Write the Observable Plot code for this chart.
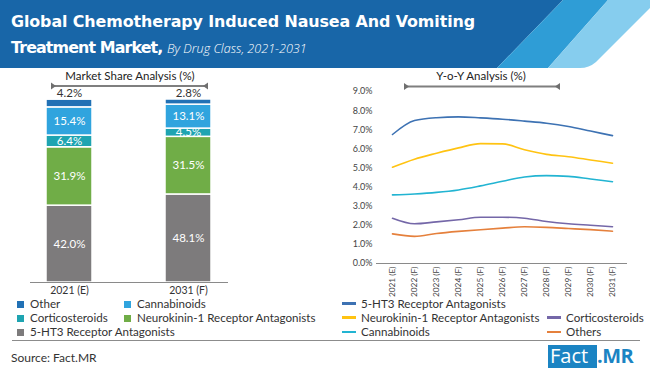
<!DOCTYPE html>
<html>
<head>
<meta charset="utf-8">
<script src="https://cdn.jsdelivr.net/npm/d3@7"></script>
<script src="https://cdn.jsdelivr.net/npm/@observablehq/plot@0.6"></script>
<style>
  html, body { margin: 0; padding: 0; background: #fff; }
  #page { position: relative; width: 650px; height: 374px; overflow: hidden; font-family: Lato, "Open Sans", sans-serif; color: #333; }
  .abs { position: absolute; }
  #title1, #title2 { position: absolute; left: 11px; color: #fff; font-family: "DejaVu Sans", sans-serif; font-weight: bold; font-size: 15.9px; white-space: nowrap; }
  #title1 { top: 12px; letter-spacing: -0.1px; }
  #title2 { top: 38px; letter-spacing: -0.9px; }
  #title2 .sub { font-family: "Open Sans", sans-serif; font-weight: 300; font-style: italic; font-size: 12.6px; letter-spacing: 0; }
  .panelTitle { position: absolute; font-size: 11.5px; color: #222; white-space: nowrap; transform: translateX(-50%); }
  .leg { position: absolute; font-size: 11.6px; color: #333; white-space: nowrap; line-height: 12px; }
  .sq { display: inline-block; width: 7px; height: 7px; margin-right: 6px; vertical-align: 0px; }
  .ln { display: inline-block; width: 14px; height: 2.5px; margin-right: 5px; vertical-align: 3px; }
</style>
</head>
<body>
<div id="page">
  <svg class="abs" style="left:0;top:0" width="650" height="69">
    <polygon points="0,0 563,0 497,68 0,68" fill="#1866a8"/>
    <polygon points="563,0 608,0 548,68 497,68" fill="#2f9dd6"/>
    <path d="M608,0 L650,0 L650,8 L596,62 Q589,68 580,68 L548,68 Z" fill="#86cdee"/>
  </svg>
  <div id="title1">Global Chemotherapy Induced Nausea And Vomiting</div>
  <div id="title2">Treatment Market, <span class="sub">By Drug Class, 2021-2031</span></div>

  <div class="panelTitle" style="left:130px;top:69px">Market Share Analysis (%)</div>
  <svg class="abs" style="left:0;top:80px" width="260" height="12">
    <line x1="52" y1="6" x2="207" y2="6" stroke="#7f7f7f" stroke-width="2"/>
    <polygon points="51,2.5 51,9.5 56,6" fill="#6f6f6f"/>
    <polygon points="208,2.5 208,9.5 203,6" fill="#6f6f6f"/>
  </svg>
  <div class="panelTitle" style="left:481px;top:69px">Y-o-Y Analysis (%)</div>
  <svg class="abs" style="left:330px;top:80px" width="320" height="12">
    <line x1="75" y1="6.5" x2="229" y2="6.5" stroke="#7f7f7f" stroke-width="2"/>
    <polygon points="74,3 74,10 79,6.5" fill="#6f6f6f"/>
    <polygon points="230,3 230,10 225,6.5" fill="#6f6f6f"/>
  </svg>

  <div id="bars" class="abs" style="left:0;top:60px"></div>
  <div id="lines" class="abs" style="left:330px;top:60px"></div>

  <div id="legendLeft"></div>
  <div id="legendRight"></div>

  <div class="abs" style="left:12px;top:340px;width:628px;height:0;border-top:1.5px solid #8c8c8c"></div>
  <div class="abs" style="left:11px;top:350px;font-size:12px;color:#333">Source: Fact.MR</div>
  <div class="abs" style="left:548px;top:345px;width:49px;height:23px;background:#1b84c3"></div>
  <div class="abs" style="left:550px;top:343px;font-family:'Open Sans',sans-serif;font-size:20px;color:#fff;line-height:26px">Fact</div>
  <div class="abs" style="left:597px;top:343px;font-family:'Open Sans',sans-serif;font-weight:bold;font-size:20px;color:#1b84c3;line-height:26px;letter-spacing:-0.5px">.MR</div>
</div>
<script>
// ---------- Data: market share by drug class (stacked bars) ----------
const barYears = ["2021 (E)", "2031 (F)"];
const barSegments = ["5-HT3 Receptor Antagonists", "Neurokinin-1 Receptor Antagonists", "Corticosteroids", "Cannabinoids", "Other"];
const share2021 = [42.0, 31.9, 6.4, 15.4, 4.2];
const share2031 = [48.1, 31.5, 4.5, 13.1, 2.8];
const barColors = ["#7d7b7c", "#70ad47", "#1ea4b1", "#30a4de", "#2171b5"];

// ---------- Data: Y-o-Y growth (lines) ----------
const yoyYears = ["2021 (E)", "2022 (F)", "2023 (F)", "2024 (F)", "2025 (F)", "2026 (F)", "2027 (F)", "2028 (F)", "2029 (F)", "2030 (F)", "2031 (F)"];
const yoy5HT3 = [6.75, 7.48, 7.63, 7.67, 7.62, 7.55, 7.45, 7.34, 7.17, 6.93, 6.69];
const yoyNK1 = [5.04, 5.46, 5.77, 6.05, 6.27, 6.26, 5.95, 5.71, 5.59, 5.42, 5.25];
const yoyCortico = [2.37, 2.08, 2.18, 2.29, 2.42, 2.42, 2.37, 2.20, 2.08, 2.00, 1.92];
const yoyCanna = [3.59, 3.64, 3.72, 3.85, 4.06, 4.30, 4.53, 4.60, 4.56, 4.42, 4.28];
const yoyOthers = [1.55, 1.42, 1.57, 1.68, 1.77, 1.85, 1.92, 1.89, 1.83, 1.77, 1.69];
const lineSeries = ["5-HT3 Receptor Antagonists", "Neurokinin-1 Receptor Antagonists", "Corticosteroids", "Cannabinoids", "Others"];
const lineValues = [yoy5HT3, yoyNK1, yoyCortico, yoyCanna, yoyOthers];
const lineColors = ["#3d72b3", "#ffc312", "#7467a8", "#22b4d2", "#e5803c"];

// ---------- Legend layouts ----------
const legendLeftItems = [
  {name: "Other", col: 0, row: 0}, {name: "Cannabinoids", col: 1, row: 0},
  {name: "Corticosteroids", col: 0, row: 1}, {name: "Neurokinin-1 Receptor Antagonists", col: 1, row: 1},
  {name: "5-HT3 Receptor Antagonists", col: 0, row: 2}
];
const legendRightItems = [
  {name: "5-HT3 Receptor Antagonists", col: 0, row: 0},
  {name: "Neurokinin-1 Receptor Antagonists", col: 0, row: 1}, {name: "Corticosteroids", col: 1, row: 1},
  {name: "Cannabinoids", col: 0, row: 2}, {name: "Others", col: 1, row: 2}
];

// ---------- Build tables ----------
const shareTable = [];
[share2021, share2031].forEach((vals, i) => {
  vals.forEach((v, j) => shareTable.push({year: barYears[i], segment: barSegments[j], value: v}));
});
const lineTable = [];
lineValues.forEach((vals, i) => {
  vals.forEach((v, j) => lineTable.push({series: lineSeries[i], year: yoyYears[j], value: v}));
});

const fmt = v => v.toFixed(1) + "%";

// ---------- Stacked bar chart ----------
const bars = Plot.plot({
  width: 240, height: 240,
  marginLeft: 30, marginRight: 12, marginTop: 39, marginBottom: 18,
  style: {fontFamily: "Lato, 'Open Sans', sans-serif", fontSize: "10.5px", color: "#333", background: "transparent"},
  x: {domain: barYears, paddingInner: 0.613, paddingOuter: 0.134, label: null, tickSize: 0, tickPadding: 4},
  y: {domain: [0, 100], axis: null},
  color: {domain: barSegments, range: barColors},
  marks: [
    Plot.barY(shareTable, Plot.stackY({x: "year", y: "value", z: "segment", fill: "segment", stroke: "white", strokeWidth: 1.5})),
    Plot.text(shareTable, Plot.stackY({x: "year", y: "value", z: "segment",
      text: d => d.segment === "Other" ? null : fmt(d.value), fill: "white", fontSize: 11.5})),
    Plot.text(shareTable, Plot.stackY2({x: "year", y: "value", z: "segment",
      text: d => d.segment === "Other" ? fmt(d.value) : null, fill: "#333", fontSize: 11.5, dy: -6})),
    Plot.ruleY([0], {stroke: "#8a8a8a", strokeWidth: 1})
  ]
});
document.getElementById("bars").appendChild(bars);

// ---------- Line chart ----------
const lines = Plot.plot({
  width: 320, height: 250,
  marginLeft: 46, marginRight: 23, marginTop: 31, marginBottom: 47,
  style: {fontFamily: "Lato, 'Open Sans', sans-serif", fontSize: "9px", color: "#444", background: "transparent"},
  x: {type: "point", domain: yoyYears, padding: 0.5, label: null, tickSize: 0, tickPadding: 3, tickRotate: -90},
  y: {domain: [0, 9], ticks: d3.range(0, 10), tickFormat: fmt, label: null, tickSize: 0, tickPadding: 4},
  color: {domain: lineSeries, range: lineColors},
  marks: [
    Plot.ruleY([0], {stroke: "#8a8a8a", strokeWidth: 1}),
    Plot.line(lineTable, {x: "year", y: "value", z: "series", stroke: "series", strokeWidth: 1.6, curve: "monotone-x"})
  ]
});
lines.querySelectorAll('[aria-label="x-axis tick label"] text').forEach(t => t.style.fontSize = "8.3px");
document.getElementById("lines").appendChild(lines);

// ---------- Legends ----------
const leftColX = [17, 124];
const rightColX = [342, 547];
const rowY = [297.5, 311.8, 326.3];
const legL = document.getElementById("legendLeft");
legendLeftItems.forEach(it => {
  const c = barColors[barSegments.indexOf(it.name)];
  const el = document.createElement("div");
  el.className = "leg";
  el.style.left = leftColX[it.col] + "px";
  el.style.top = rowY[it.row] + "px";
  el.innerHTML = `<span class="sq" style="background:${c}"></span>${it.name}`;
  legL.appendChild(el);
});
const legR = document.getElementById("legendRight");
legendRightItems.forEach(it => {
  const c = lineColors[lineSeries.indexOf(it.name)];
  const el = document.createElement("div");
  el.className = "leg";
  el.style.left = rightColX[it.col] + "px";
  el.style.top = rowY[it.row] + "px";
  el.innerHTML = `<span class="ln" style="background:${c}"></span>${it.name}`;
  legR.appendChild(el);
});
</script>
</body>
</html>
